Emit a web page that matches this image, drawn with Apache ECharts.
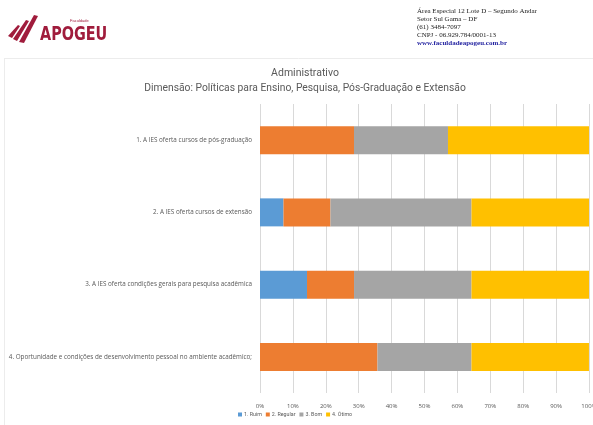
<!DOCTYPE html>
<html><head><meta charset="utf-8">
<script src="https://cdn.jsdelivr.net/npm/echarts@6/dist/echarts.min.js"></script>
<style>html,body{margin:0;padding:0;background:#fff}#c{width:593px;height:425px}</style>
</head><body><div id="c"></div>
<script>
const categories = [
  '1. A IES oferta cursos de pós-graduação',
  '2. A IES oferta cursos de extensão',
  '3. A IES oferta condições gerais para pesquisa acadêmica',
  '4. Oportunidade e condições de desenvolvimento pessoal no ambiente acadêmico;'
];
const seriesNames = ['1. Ruim', '2. Regular', '3. Bom', '4. Ótimo'];
const ruim    = [0, 7.14, 14.29, 0];
const regular = [28.57, 14.29, 14.29, 35.71];
const bom     = [28.57, 42.86, 35.71, 28.57];
const otimo   = [42.86, 35.71, 35.71, 35.71];
const colors = ['#5B9BD5', '#ED7D31', '#A5A5A5', '#FFC000'];
const addressLines = ['Área Especial 12 Lote D – Segundo Andar','Setor Sul Gama – DF','(61) 3484-7097','CNPJ - 06.929.784/0001-13'];
const website = 'www.faculdadeapogeu.com.br';
const titleText = 'Administrativo';
const subtitleText = 'Dimensão: Políticas para Ensino, Pesquisa, Pós-Graduação e Extensão';

const FONT = '"Open Sans", sans-serif';
const chart = echarts.init(document.getElementById('c'), null, {renderer: 'canvas'});
const values = [ruim, regular, bom, otimo];

const graphics = [
  {type:'line', shape:{x1:4, y1:58.5, x2:593, y2:58.5}, style:{stroke:'#ececec', lineWidth:1}},
  {type:'line', shape:{x1:4.5, y1:58, x2:4.5, y2:425}, style:{stroke:'#ececec', lineWidth:1}},
  {type:'polygon', shape:{points:[[8,36],[18,25],[20,26],[12,38]]}, style:{fill:'#A01C3C'}},
  {type:'polygon', shape:{points:[[13,39],[26,20],[29,21],[17,41]]}, style:{fill:'#A01C3C'}},
  {type:'polygon', shape:{points:[[19,42],[34,15],[38,16],[24,43]]}, style:{fill:'#A01C3C'}},
  {type:'text', x:40, y:25, scaleX:0.72, style:{text:'APOGEU', font:'bold 20px "DejaVu Sans", sans-serif', fill:'#A01C3C'}},
  {type:'text', left:70, top:19, style:{text:'Faculdade', font:'4px sans-serif', fill:'#A01C3C'}},
  {type:'text', x:305, y:73, style:{text:titleText, font:'10.5px Roboto, sans-serif', fill:'#595959', align:'center', verticalAlign:'middle'}},
  {type:'text', x:305, y:88, style:{text:subtitleText, font:'10.3px Roboto, sans-serif', fill:'#595959', align:'center', verticalAlign:'middle'}},
];
addressLines.forEach((t,i)=>{
  graphics.push({type:'text', left:417, top:8+i*7.8, style:{text:t, font:'7px "Liberation Serif", serif', fill:'#222'}});
});
graphics.push({type:'text', left:417, top:39.5, style:{text:website, font:'bold 7px "Liberation Serif", serif', fill:'#1F1F9F'}});

chart.setOption({
  animation:false,
  backgroundColor:'#fff',
  color: colors,
  legend: {
    bottom: 3, left: 233, itemWidth: 4, itemHeight: 4, itemGap: 4, icon: 'rect',
    textStyle: {fontFamily: 'Roboto, sans-serif', fontSize: 5.3, color: '#595959', padding:[0,0,0,-3]},
    data: seriesNames
  },
  grid: {left: 260, right: 4, top: 104, bottom: 32, containLabel: false, outerBoundsMode: 'none'},
  xAxis: {
    type: 'value', min: 0, max: 100, interval: 10,
    axisLabel: {formatter: v => v + '%', fontFamily: FONT, fontSize: 6, color: '#595959', margin: 10},
    axisLine: {show: false}, axisTick: {show: false},
    splitLine: {lineStyle: {color: '#d9d9d9', width: 1}}
  },
  yAxis: {
    type: 'category', data: categories, inverse: true,
    axisLine: {show: false}, axisTick: {show: false},
    axisLabel: {fontFamily: FONT, fontSize: 6.3, color: '#595959', margin: 8}
  },
  series: seriesNames.map((n,i)=>({
    name: n, type: 'bar', stack: 'total', data: values[i], barWidth: 28,
    itemStyle: {color: colors[i]}
  })),
  graphic: graphics
});
</script></body></html>
